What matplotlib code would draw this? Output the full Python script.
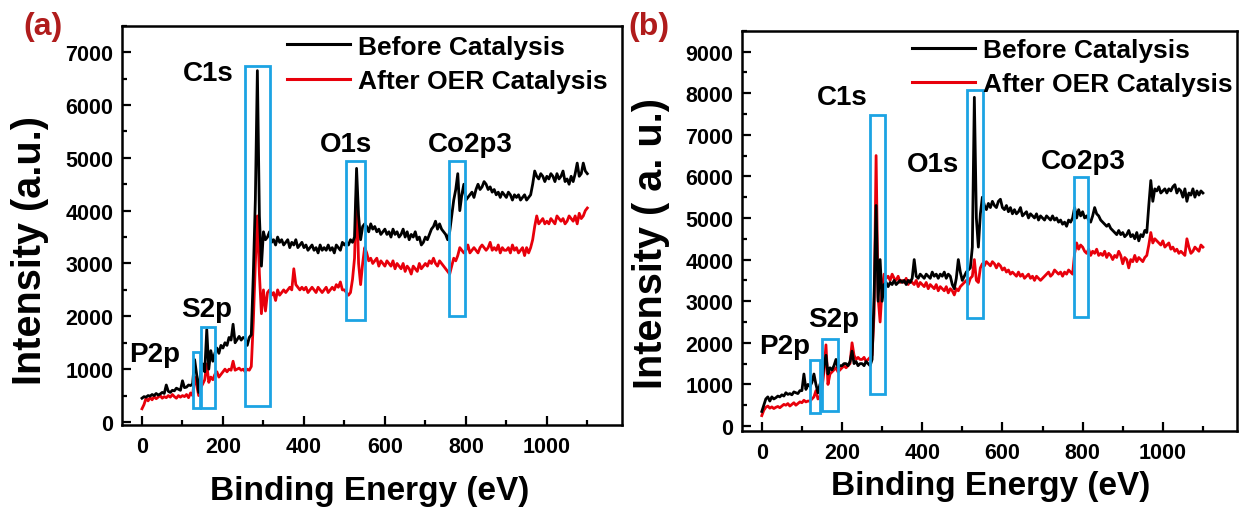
import numpy as np
import matplotlib.pyplot as plt
from matplotlib.lines import Line2D
from matplotlib.patches import Rectangle
from matplotlib.ticker import MultipleLocator

plt.rcParams['font.family'] = ['Liberation Sans', 'DejaVu Sans']
plt.rcParams['font.weight'] = 'bold'
plt.rcParams['axes.labelweight'] = 'bold'

RED = '#e8000b'
BLUE = '#1ca3e3'
PANEL = '#b01c1c'

# binding energy grid, 5 eV steps
energy = np.arange(0, 1105, 5)

series_names = ['Before Catalysis', 'After OER Catalysis']

# ---- panel (a) ----
before_a = [
    450, 480, 470, 500, 490, 520, 500, 540, 510, 530,
    560, 540, 700, 580, 560, 600, 590, 640, 620, 600,
    780, 650, 660, 700, 690, 720, 1180, 900, 560, 950,
    1100, 950, 1750, 1000, 1350, 1150, 1300, 1400, 1300, 1450,
    1400, 1500, 1450, 1600, 1550, 1850, 1500, 1560, 1620, 1550,
    1600, 1580, 1450, 1600, 1650, 2800, 4200, 6650, 3900, 2950,
    3600, 3450, 3500, 3600, 3400, 3450, 3350, 3500, 3400, 3450,
    3350, 3400, 3450, 3300, 3400, 3350, 3450, 3300, 3350, 3400,
    3300, 3350, 3250, 3300, 3350, 3250, 3300, 3200, 3350, 3250,
    3300, 3250, 3350, 3250, 3300, 3200, 3350, 3300, 3250, 3400,
    3350, 3400, 3350, 3450, 3400, 3500, 4800, 3900, 3450, 3700,
    3750, 3700, 3600, 3750, 3650, 3700, 3600, 3650, 3550, 3600,
    3650, 3550, 3600, 3500, 3650, 3550, 3600, 3500, 3550, 3650,
    3500, 3600, 3450, 3550, 3500, 3600, 3450, 3500, 3350, 3400,
    3500, 3450, 3550, 3650, 3700, 3800, 3650, 3750, 3650, 3600,
    3550, 3450, 3600, 3900, 4200, 4400, 4700, 4000, 4300, 4500,
    4200, 4250, 4300, 4350, 4250, 4400, 4500, 4400, 4450, 4550,
    4500, 4400, 4450, 4350, 4400, 4300, 4350, 4250, 4350, 4300,
    4250, 4350, 4300, 4200, 4300, 4250, 4300, 4200, 4250, 4300,
    4200, 4250, 4300, 4500, 4750, 4650, 4600, 4700, 4650, 4550,
    4650, 4600, 4700, 4650, 4550, 4700, 4600, 4650, 4750, 4550,
    4600, 4500, 4650, 4550, 4700, 4900, 4650, 4700, 4900, 4750,
    4700,
]
after_a = [
    250, 330, 450, 400, 460, 420, 480, 440, 470, 500,
    450, 480, 460, 500, 470, 520, 480, 450, 500, 470,
    500, 480, 520, 460, 550, 500, 850, 700, 500, 650,
    720, 800, 1100, 750, 850, 800, 900, 950, 850, 900,
    950, 1000, 950, 1000, 980, 1150, 980, 1000, 1020, 980,
    1000, 950, 1000, 980, 1050, 1900, 3000, 3900, 2800, 2050,
    2500, 2100, 2450, 2500, 2400, 2450, 2300, 2500, 2400, 2450,
    2500, 2450, 2500, 2550, 2500, 2900, 2600, 2550, 2500, 2550,
    2500, 2550, 2450, 2500, 2550, 2500, 2450, 2550, 2500, 2450,
    2500, 2550, 2450, 2500, 2550, 2500, 2600, 2550, 2650, 2500,
    2500, 2450, 2400, 2450, 2700, 3100, 4400, 3000, 2600, 3000,
    3300, 3200, 3050, 3100, 3000, 3050, 3100, 2950, 3050, 3000,
    2950, 3050, 3000, 2950, 3050, 2900, 3000, 2950, 2900, 3000,
    2850, 2950, 2900, 2800, 2950, 2900, 2850, 3000, 2900, 2950,
    3000, 2950, 3050, 3000, 3100, 3000, 2950, 3050, 3000, 2950,
    2900, 2850, 2800, 2950, 3100, 3050, 3150, 3300, 3250, 3200,
    3250, 3350, 3200, 3250, 3300, 3250, 3200, 3300, 3350, 3300,
    3250, 3300, 3400, 3250, 3300, 3250, 3350, 3200, 3300, 3250,
    3250, 3300, 3200, 3350, 3250, 3300, 3200, 3250, 3300, 3150,
    3300, 3200, 3300, 3450, 3700, 3900, 3750, 3800, 3850, 3750,
    3800, 3750, 3850, 3800, 3750, 3900, 3850, 3800, 3850, 3750,
    3800, 3900, 3850, 3800, 3900, 3750, 3950, 3850, 3900, 4000,
    4050,
]

# ---- panel (b) ----
before_b = [
    350, 500, 650, 700, 600, 700, 650, 680, 720, 700,
    750, 720, 800, 760, 780, 750, 820, 800, 780, 850,
    850, 1250, 880, 1000, 950, 1050, 1250, 1000, 800, 1000,
    1100, 1450, 1700, 1250, 1400, 1350, 1450, 1600, 1400, 1450,
    1450, 1500, 1500, 1450, 1550, 1800, 1500, 1550, 1450, 1500,
    1500, 1450, 1550, 1500, 1450, 1600, 3100, 5300, 3000, 4000,
    3000, 3400, 3450, 3350, 3450, 3400, 3500, 3400, 3450, 3500,
    3450, 3500, 3400, 3500, 3450, 3550, 4000, 3600, 3550, 3650,
    3600, 3550, 3650, 3600, 3550, 3700, 3600, 3650, 3550, 3650,
    3600, 3700, 3550, 3650, 3600, 3400, 3300, 3550, 4000, 3700,
    3500, 3600, 3700, 3750, 3800, 4300, 7900, 5000, 4300, 5100,
    5500, 5300, 5200, 5350, 5250, 5400, 5300, 5250, 5400, 5450,
    5250, 5200, 5300, 5150, 5250, 5100, 5200, 5100, 5150, 5250,
    5050, 5100, 5150, 5000, 5100, 5050, 5000, 5100, 4950, 5050,
    5000, 4950, 5050, 5000, 4950, 5050, 4950, 5000, 4900, 4950,
    4850, 4900, 4800, 4950, 4900, 5000, 5250, 5000, 5200, 5050,
    5150, 5000, 5050, 4950, 4900, 5050, 5250, 5100, 5050, 4950,
    4900, 4850, 4800, 4850, 4750, 4700, 4650, 4600, 4700, 4600,
    4650, 4550, 4600, 4700, 4550, 4600, 4500, 4650, 4450, 4600,
    4550, 4700, 4650, 5300, 5900, 5400, 5700, 5650, 5750, 5600,
    5650, 5700, 5600, 5700, 5650, 5750, 5800, 5600, 5700, 5650,
    5500, 5700, 5400, 5600, 5550, 5700, 5500, 5650, 5550, 5650,
    5600,
]
after_b = [
    250, 380, 450, 480, 430, 460, 420, 450, 470, 440,
    480, 520, 500, 540, 480, 520, 560, 500, 540, 580,
    560, 620, 580, 600, 600, 650, 700, 850, 650, 700,
    900, 1300, 1950, 1000, 1250, 1300, 1350, 1400, 1300, 1350,
    1400, 1450, 1400, 1450, 1500, 2000, 1700, 1600, 1650, 1600,
    1600, 1650, 1550, 1600, 1650, 1700, 2700, 6500, 3100, 2500,
    3300, 3650, 3550, 3600, 3500, 3650, 3550, 3500, 3600, 3450,
    3500, 3450, 3550, 3400, 3500, 3450, 3400, 3500, 3350, 3450,
    3400, 3350, 3450, 3300, 3400, 3350, 3300, 3400, 3250, 3350,
    3300, 3250, 3350, 3200, 3300, 3250, 3150, 3300, 3250, 3350,
    3400, 3450, 3500, 3400, 3550, 3600, 4000, 3500, 3450, 3800,
    3900, 3850, 3950, 3900, 3850, 3950, 3900, 3800, 3900, 3850,
    3750, 3800, 3700, 3750, 3650, 3700, 3650, 3600, 3700, 3600,
    3650, 3550, 3600, 3650, 3550, 3600, 3500, 3600, 3550, 3500,
    3550, 3600, 3650, 3700, 3600, 3650, 3750, 3700, 3650, 3700,
    3600, 3700, 3650, 3750, 3700, 3650, 4150, 4400, 4250, 4350,
    4300, 4200, 4150, 4250, 4100, 4200, 4150, 4250, 4100, 4150,
    4100, 4200, 4050, 4150, 4100, 4000, 4100, 4050, 4200, 4100,
    3900, 4050, 4000, 3800, 4000, 3950, 4100, 3950, 4050, 4000,
    3950, 4050, 4100, 4350, 4650, 4400, 4500, 4450, 4400, 4350,
    4450, 4300, 4350, 4400, 4250, 4300, 4200, 4250, 4150, 4200,
    4150, 4100, 4500, 4300, 4150, 4200, 4300, 4250, 4200, 4350,
    4300,
]

# highlighted peak regions: (label, x0, x1, y0, y1)
peak_boxes_a = [
    ('P2p', 126, 143, 260, 1330),
    ('S2p', 147, 180, 260, 1800),
    ('C1s', 254, 315, 310, 6730),
    ('O1s', 505, 550, 1930, 4940),
    ('Co2p3', 759, 798, 2010, 4940),
]
peak_boxes_b = [
    ('P2p', 120, 144, 306, 1590),
    ('S2p', 151, 190, 360, 2100),
    ('C1s', 271, 306, 765, 7480),
    ('O1s', 511, 551, 2590, 8080),
    ('Co2p3', 779, 814, 2630, 5990),
]
# peak label anchor points (x, y) in data units
peak_labels_a = {'P2p': (31, 1290), 'S2p': (160, 2140), 'C1s': (164, 6610),
                 'O1s': (503, 5265), 'Co2p3': (810, 5265)}
peak_labels_b = {'P2p': (58, 1925), 'S2p': (180, 2584), 'C1s': (201, 7900),
                 'O1s': (428, 6300), 'Co2p3': (801, 6376)}


def draw_panel(ax, before, after, boxes, labels, ylim, ytop, ylabel,
               legend_anchor):
    ax.plot(energy, after, color=RED, lw=2.0)
    ax.plot(energy, before, color='black', lw=2.0)
    for name, x0, x1, y0, y1 in boxes:
        ax.add_patch(Rectangle((x0, y0), x1 - x0, y1 - y0, fill=False,
                               edgecolor=BLUE, lw=2.0, zorder=5))
    for name, (tx, ty) in labels.items():
        ax.text(tx, ty, name, fontsize=20, ha='center', va='center')
    ax.set_xlim(-50, 1185)
    ax.set_ylim(*ylim)
    ax.set_xticks(np.arange(0, 1001, 200))
    ax.set_yticks(np.arange(0, ytop + 1, 1000))
    ax.xaxis.set_minor_locator(MultipleLocator(100))
    ax.yaxis.set_minor_locator(MultipleLocator(500))
    ax.tick_params(which='both', direction='in', width=1.6, labelsize=15.5,
                   top=False, right=False)
    ax.tick_params(which='major', length=6.5)
    ax.tick_params(which='minor', length=3.5)
    ax.tick_params(axis='y', pad=6)
    ax.tick_params(axis='x', pad=8)
    for sp in ax.spines.values():
        sp.set_linewidth(1.8)
    ax.set_xlabel('Binding Energy (eV)', fontsize=24, va='center')
    ax.set_ylabel(ylabel, fontsize=28.5, va='center')
    handles = [Line2D([], [], color='black', lw=2.2),
               Line2D([], [], color=RED, lw=2.2)]
    ax.legend(handles, series_names, loc='upper left',
              bbox_to_anchor=legend_anchor, frameon=False, fontsize=19,
              handlelength=2.4, handletextpad=0.3, labelspacing=0.4,
              borderpad=0, borderaxespad=0)


fig = plt.figure(figsize=(12.41, 5.10), dpi=100)
ax_a = fig.add_axes([0.0981, 0.1647, 0.4029, 0.7829])
ax_b = fig.add_axes([0.5977, 0.1529, 0.3991, 0.7849])

draw_panel(ax_a, before_a, after_a, peak_boxes_a, peak_labels_a,
           (-57, 7500), 7000, 'Intensity (a.u.)', (0.33, 0.978))
ax_a.xaxis.set_label_coords(0.495, -0.165)
ax_a.yaxis.set_label_coords(-0.183, 0.44)

draw_panel(ax_b, before_b, after_b, peak_boxes_b, peak_labels_b,
           (-120, 9500), 9000, 'Intensity ( a. u.)', (0.344, 0.982))
ax_b.xaxis.set_label_coords(0.503, -0.137)
ax_b.yaxis.set_label_coords(-0.183, 0.47)

fig.text(23 / 1241, 1 - 27 / 510, '(a)', color=PANEL, fontsize=23,
         va='center')
fig.text(628 / 1241, 1 - 27 / 510, '(b)', color=PANEL, fontsize=23,
         va='center')

fig.savefig('out.png', dpi=100)
